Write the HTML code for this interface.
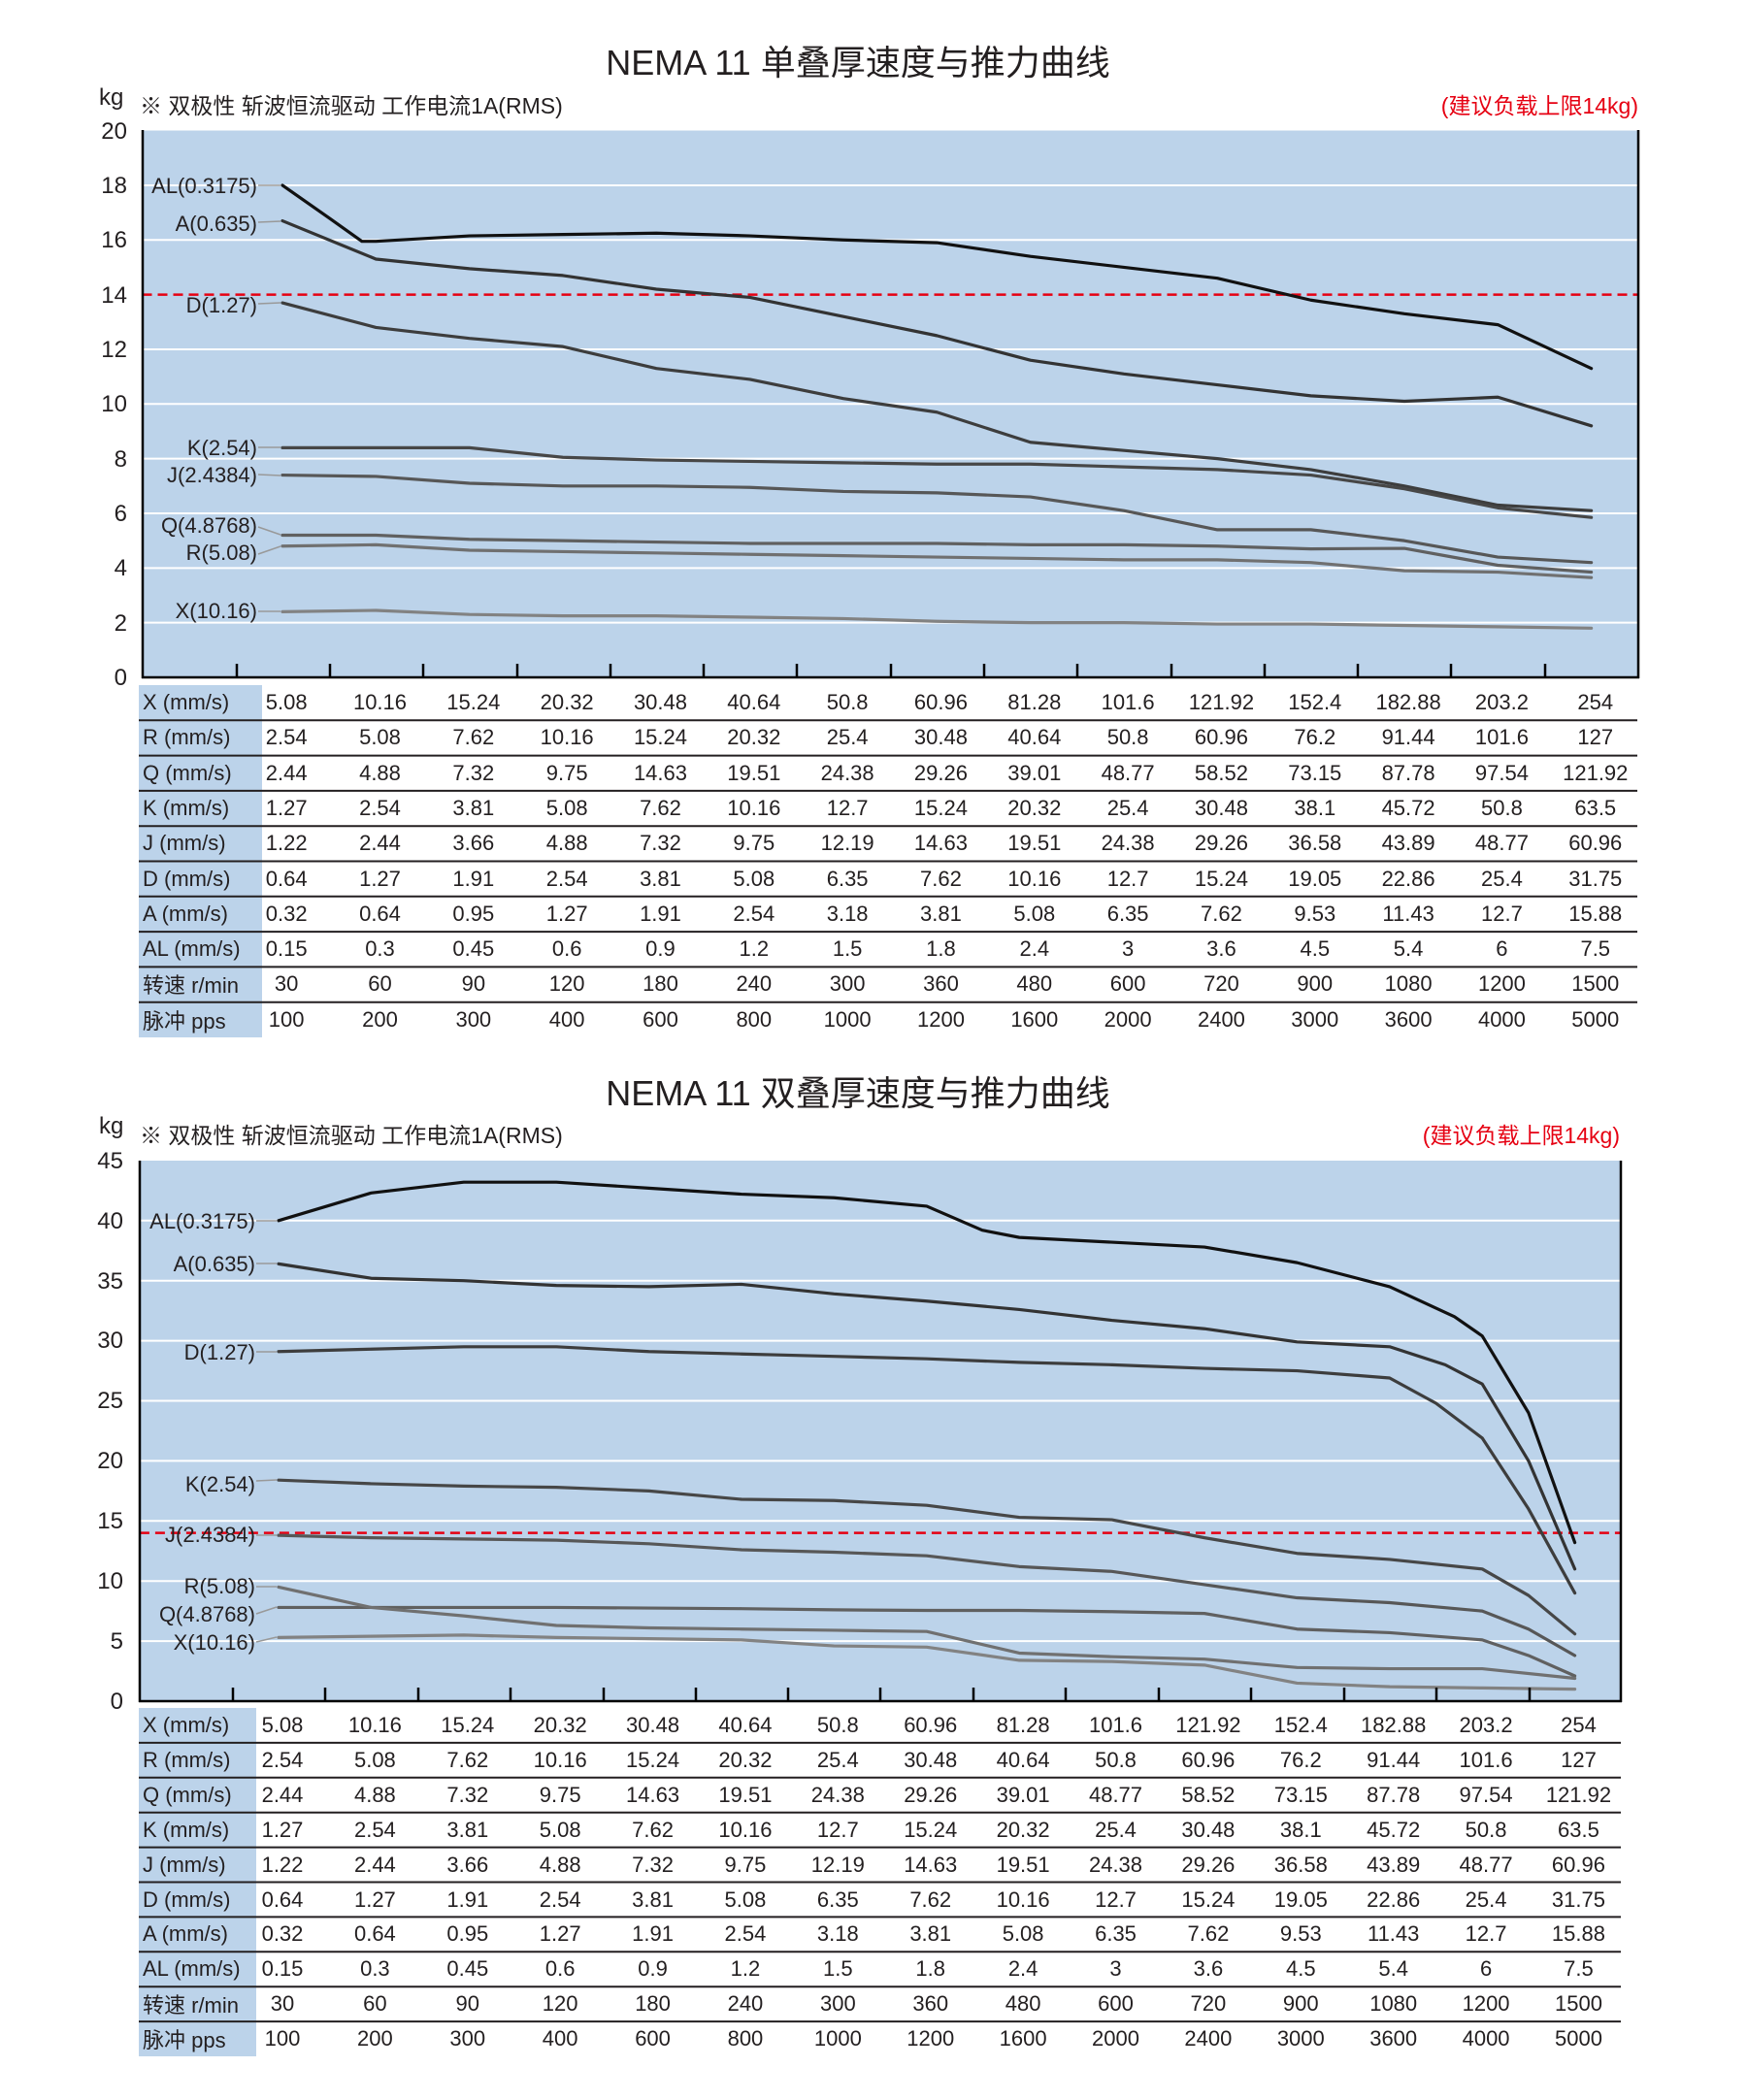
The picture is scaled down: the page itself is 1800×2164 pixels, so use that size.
<!DOCTYPE html>
<html><head><meta charset="utf-8">
<style>
body{margin:0;background:#fff;}
#wrap{position:relative;width:1800px;height:2164px;overflow:hidden;font-family:"Liberation Sans","Noto Sans CJK SC",sans-serif;color:#231f20;}
svg{position:absolute;left:0;top:0;}
.row{position:absolute;left:143px;height:36px;display:flex;align-items:center;font-size:22px;white-space:nowrap;}
.row .lb{width:0;overflow:visible;padding-left:4px;}
.row span.v{display:inline-block;text-align:center;}
.t1 .v{width:96.33px;}
.t2 .v{width:95.4px;}
</style></head><body><div id="wrap">
<svg width="1800" height="2164" viewBox="0 0 1800 2164" font-family="Liberation Sans, Noto Sans CJK SC, sans-serif" fill="#231f20">
<!-- ============ CHART 1 ============ -->
<text x="884" y="77" font-size="36" text-anchor="middle">NEMA 11 单叠厚速度与推力曲线</text>
<text x="102" y="108" font-size="24">kg</text>
<text x="144" y="117" font-size="23">※ 双极性 斩波恒流驱动 工作电流1A(RMS)</text>
<text x="1688" y="117" font-size="23" text-anchor="end" fill="#e60012">(建议负载上限14kg)</text>
<rect x="147" y="134.5" width="1541" height="563.5" fill="#bcd3ea"/>
<rect x="143" y="706" width="127" height="363" fill="#bcd3ea"/>
<g transform="translate(291,698) scale(96.33,-28.17)">
 <g stroke="#fff" stroke-width="2" vector-effect="non-scaling-stroke">
  <line x1="-1.5" x2="14.5" y1="2" y2="2" vector-effect="non-scaling-stroke"/>
  <line x1="-1.5" x2="14.5" y1="4" y2="4" vector-effect="non-scaling-stroke"/>
  <line x1="-1.5" x2="14.5" y1="6" y2="6" vector-effect="non-scaling-stroke"/>
  <line x1="-1.5" x2="14.5" y1="8" y2="8" vector-effect="non-scaling-stroke"/>
  <line x1="-1.5" x2="14.5" y1="10" y2="10" vector-effect="non-scaling-stroke"/>
  <line x1="-1.5" x2="14.5" y1="12" y2="12" vector-effect="non-scaling-stroke"/>
  <line x1="-1.5" x2="14.5" y1="16" y2="16" vector-effect="non-scaling-stroke"/>
  <line x1="-1.5" x2="14.5" y1="18" y2="18" vector-effect="non-scaling-stroke"/>
 </g>
 <line x1="-1.5" x2="14.5" y1="14" y2="14" stroke="#e60012" stroke-width="2.5" stroke-dasharray="10 6" vector-effect="non-scaling-stroke"/>
 <g fill="none" stroke-width="3.2" stroke-linejoin="round" stroke-linecap="round">
  <polyline vector-effect="non-scaling-stroke" stroke="#111" points="0,18 0.5,16.8 0.85,15.95 1,15.95 2,16.15 3,16.2 4,16.25 5,16.15 6,16 7,15.9 8,15.4 9,15.0 10,14.6 11,13.8 12,13.3 13,12.9 14,11.3"/>
  <polyline vector-effect="non-scaling-stroke" stroke="#333" points="0,16.7 1,15.3 2,14.95 3,14.7 4,14.2 5,13.9 6,13.2 7,12.5 8,11.6 9,11.1 10,10.7 11,10.3 12,10.1 13,10.25 14,9.2"/>
  <polyline vector-effect="non-scaling-stroke" stroke="#3d3d3d" points="0,13.7 1,12.8 2,12.4 3,12.1 4,11.3 5,10.9 6,10.2 7,9.7 8,8.6 9,8.3 10,8.0 11,7.6 12,7.0 13,6.3 14,6.1"/>
  <polyline vector-effect="non-scaling-stroke" stroke="#474747" points="0,8.4 1,8.4 2,8.4 3,8.05 4,7.95 5,7.9 6,7.85 7,7.8 8,7.8 9,7.7 10,7.6 11,7.4 12,6.9 13,6.2 14,5.85"/>
  <polyline vector-effect="non-scaling-stroke" stroke="#575757" points="0,7.4 1,7.35 2,7.1 3,7.0 4,7.0 5,6.95 6,6.8 7,6.75 8,6.6 9,6.1 10,5.4 11,5.4 12,5.0 13,4.4 14,4.2"/>
  <polyline vector-effect="non-scaling-stroke" stroke="#606060" points="0,5.2 1,5.2 2,5.05 3,5.0 4,4.95 5,4.9 6,4.9 7,4.9 8,4.85 9,4.85 10,4.8 11,4.7 12,4.72 13,4.1 14,3.85"/>
  <polyline vector-effect="non-scaling-stroke" stroke="#707070" points="0,4.8 1,4.85 2,4.65 3,4.6 4,4.55 5,4.5 6,4.45 7,4.4 8,4.35 9,4.3 10,4.3 11,4.2 12,3.9 13,3.85 14,3.65"/>
  <polyline vector-effect="non-scaling-stroke" stroke="#828282" points="0,2.4 1,2.45 2,2.3 3,2.25 4,2.25 5,2.2 6,2.15 7,2.05 8,2.0 9,2.0 10,1.95 11,1.95 12,1.9 13,1.85 14,1.8"/>
 </g>
</g>
<g stroke="#000" stroke-width="2.5">
 <line x1="147" y1="134" x2="147" y2="699"/>
 <line x1="1688" y1="134" x2="1688" y2="699"/>
 <line x1="146" y1="698" x2="1689" y2="698"/>
 <line x1="244" y1="684" x2="244" y2="698"/><line x1="340" y1="684" x2="340" y2="698"/><line x1="436" y1="684" x2="436" y2="698"/><line x1="533" y1="684" x2="533" y2="698"/><line x1="629" y1="684" x2="629" y2="698"/><line x1="725" y1="684" x2="725" y2="698"/><line x1="821" y1="684" x2="821" y2="698"/><line x1="918" y1="684" x2="918" y2="698"/><line x1="1014" y1="684" x2="1014" y2="698"/><line x1="1110" y1="684" x2="1110" y2="698"/><line x1="1207" y1="684" x2="1207" y2="698"/><line x1="1303" y1="684" x2="1303" y2="698"/><line x1="1399" y1="684" x2="1399" y2="698"/><line x1="1495" y1="684" x2="1495" y2="698"/><line x1="1592" y1="684" x2="1592" y2="698"/>
</g>
<g font-size="24" text-anchor="end">
 <text x="131" y="706">0</text><text x="131" y="650">2</text><text x="131" y="593">4</text><text x="131" y="537">6</text><text x="131" y="481">8</text><text x="131" y="424">10</text><text x="131" y="368">12</text><text x="131" y="312">14</text><text x="131" y="255">16</text><text x="131" y="199">18</text><text x="131" y="143">20</text>
</g>
<g stroke="#999" stroke-width="1.5">
 <line x1="266" y1="191" x2="289" y2="191"/><line x1="266" y1="229" x2="289" y2="228"/><line x1="266" y1="313" x2="289" y2="312"/><line x1="266" y1="461" x2="289" y2="461"/><line x1="266" y1="489" x2="289" y2="490"/><line x1="266" y1="543" x2="289" y2="551"/><line x1="266" y1="571" x2="289" y2="563"/><line x1="266" y1="630" x2="289" y2="630"/>
</g>
<g font-size="22" text-anchor="end">
 <text x="265" y="199">AL(0.3175)</text><text x="265" y="238">A(0.635)</text><text x="265" y="322">D(1.27)</text><text x="265" y="469">K(2.54)</text><text x="265" y="497">J(2.4384)</text><text x="265" y="549">Q(4.8768)</text><text x="265" y="577">R(5.08)</text><text x="265" y="637">X(10.16)</text>
</g>
<g stroke="#231f20" stroke-width="2">
 <line x1="143" x2="1687" y1="742.3" y2="742.3"/><line x1="143" x2="1687" y1="778.6" y2="778.6"/><line x1="143" x2="1687" y1="814.9" y2="814.9"/><line x1="143" x2="1687" y1="851.2" y2="851.2"/><line x1="143" x2="1687" y1="887.5" y2="887.5"/><line x1="143" x2="1687" y1="923.8" y2="923.8"/><line x1="143" x2="1687" y1="960.1" y2="960.1"/><line x1="143" x2="1687" y1="996.4" y2="996.4"/><line x1="143" x2="1687" y1="1032.7" y2="1032.7"/>
</g>

<!-- ============ CHART 2 ============ -->
<text x="884" y="1139" font-size="36" text-anchor="middle">NEMA 11 双叠厚速度与推力曲线</text>
<text x="102" y="1168" font-size="24">kg</text>
<text x="144" y="1178" font-size="23">※ 双极性 斩波恒流驱动 工作电流1A(RMS)</text>
<text x="1669" y="1178" font-size="23" text-anchor="end" fill="#e60012">(建议负载上限14kg)</text>
<rect x="144" y="1196" width="1526" height="557" fill="#bcd3ea"/>
<rect x="143" y="1760" width="121" height="359" fill="#bcd3ea"/>
<g transform="translate(287,1753) scale(95.4,-12.38)">
 <g stroke="#fff" stroke-width="2">
  <line x1="-1.5" x2="14.5" y1="5" y2="5" vector-effect="non-scaling-stroke"/>
  <line x1="-1.5" x2="14.5" y1="10" y2="10" vector-effect="non-scaling-stroke"/>
  <line x1="-1.5" x2="14.5" y1="15" y2="15" vector-effect="non-scaling-stroke"/>
  <line x1="-1.5" x2="14.5" y1="20" y2="20" vector-effect="non-scaling-stroke"/>
  <line x1="-1.5" x2="14.5" y1="25" y2="25" vector-effect="non-scaling-stroke"/>
  <line x1="-1.5" x2="14.5" y1="30" y2="30" vector-effect="non-scaling-stroke"/>
  <line x1="-1.5" x2="14.5" y1="35" y2="35" vector-effect="non-scaling-stroke"/>
  <line x1="-1.5" x2="14.5" y1="40" y2="40" vector-effect="non-scaling-stroke"/>
 </g>
 <line x1="-1.5" x2="14.5" y1="14" y2="14" stroke="#e60012" stroke-width="2.5" stroke-dasharray="10 6" vector-effect="non-scaling-stroke"/>
 <g fill="none" stroke-width="3.2" stroke-linejoin="round" stroke-linecap="round">
  <polyline vector-effect="non-scaling-stroke" stroke="#111" points="0,40 1,42.3 2,43.2 3,43.2 4,42.7 5,42.2 6,41.9 7,41.2 7.6,39.2 8,38.6 9,38.2 10,37.8 11,36.5 12,34.5 12.7,32 13,30.4 13.5,24 14,13.2"/>
  <polyline vector-effect="non-scaling-stroke" stroke="#333" points="0,36.4 1,35.2 2,35.0 3,34.6 4,34.5 5,34.7 6,33.9 7,33.3 8,32.6 9,31.7 10,31.0 11,29.9 12,29.5 12.6,28 13,26.4 13.5,20 14,11.0"/>
  <polyline vector-effect="non-scaling-stroke" stroke="#3d3d3d" points="0,29.1 1,29.3 2,29.5 3,29.5 4,29.1 5,28.9 6,28.7 7,28.5 8,28.2 9,28.0 10,27.7 11,27.5 12,26.9 12.5,24.8 13,21.9 13.5,16 14,9.0"/>
  <polyline vector-effect="non-scaling-stroke" stroke="#474747" points="0,18.4 1,18.1 2,17.9 3,17.8 4,17.5 5,16.8 6,16.7 7,16.3 8,15.3 9,15.1 10,13.6 11,12.3 12,11.8 13,11.0 13.5,8.8 14,5.6"/>
  <polyline vector-effect="non-scaling-stroke" stroke="#575757" points="0,13.8 1,13.6 2,13.5 3,13.4 4,13.1 5,12.6 6,12.4 7,12.1 8,11.2 9,10.8 10,9.7 11,8.6 12,8.2 13,7.5 13.5,6 14,3.8"/>
  <polyline vector-effect="non-scaling-stroke" stroke="#606060" points="0,7.8 1,7.8 2,7.8 3,7.8 4,7.75 5,7.7 6,7.6 7,7.55 8,7.55 9,7.45 10,7.3 11,6.0 12,5.7 13,5.1 13.5,3.8 14,2.1"/>
  <polyline vector-effect="non-scaling-stroke" stroke="#707070" points="0,9.5 1,7.8 2,7.1 3,6.3 4,6.1 5,6.0 6,5.9 7,5.8 8,4.0 9,3.7 10,3.5 11,2.8 12,2.7 13,2.7 14,1.9"/>
  <polyline vector-effect="non-scaling-stroke" stroke="#828282" points="0,5.3 1,5.4 2,5.5 3,5.3 4,5.2 5,5.1 6,4.6 7,4.5 8,3.4 9,3.3 10,3.0 11,1.5 12,1.2 13,1.1 14,1.0"/>
 </g>
</g>
<g stroke="#000" stroke-width="2.5">
 <line x1="144" y1="1196" x2="144" y2="1754"/>
 <line x1="1670" y1="1196" x2="1670" y2="1754"/>
 <line x1="143" y1="1753" x2="1671" y2="1753"/>
 <line x1="240" y1="1739" x2="240" y2="1753"/><line x1="335" y1="1739" x2="335" y2="1753"/><line x1="431" y1="1739" x2="431" y2="1753"/><line x1="526" y1="1739" x2="526" y2="1753"/><line x1="622" y1="1739" x2="622" y2="1753"/><line x1="717" y1="1739" x2="717" y2="1753"/><line x1="812" y1="1739" x2="812" y2="1753"/><line x1="907" y1="1739" x2="907" y2="1753"/><line x1="1003" y1="1739" x2="1003" y2="1753"/><line x1="1098" y1="1739" x2="1098" y2="1753"/><line x1="1194" y1="1739" x2="1194" y2="1753"/><line x1="1289" y1="1739" x2="1289" y2="1753"/><line x1="1385" y1="1739" x2="1385" y2="1753"/><line x1="1480" y1="1739" x2="1480" y2="1753"/><line x1="1576" y1="1739" x2="1576" y2="1753"/>
</g>
<g font-size="24" text-anchor="end">
 <text x="127" y="1761">0</text><text x="127" y="1699">5</text><text x="127" y="1637">10</text><text x="127" y="1575">15</text><text x="127" y="1513">20</text><text x="127" y="1451">25</text><text x="127" y="1389">30</text><text x="127" y="1328">35</text><text x="127" y="1266">40</text><text x="127" y="1204">45</text>
</g>
<g stroke="#999" stroke-width="1.5">
 <line x1="264" y1="1258" x2="285" y2="1258"/><line x1="264" y1="1302" x2="285" y2="1302"/><line x1="264" y1="1393" x2="285" y2="1393"/><line x1="264" y1="1526" x2="285" y2="1525"/><line x1="264" y1="1582" x2="285" y2="1582"/><line x1="264" y1="1635" x2="285" y2="1635"/><line x1="264" y1="1663" x2="285" y2="1656"/><line x1="264" y1="1692" x2="285" y2="1687"/>
</g>
<g font-size="22" text-anchor="end">
 <text x="263" y="1266">AL(0.3175)</text><text x="263" y="1310">A(0.635)</text><text x="263" y="1401">D(1.27)</text><text x="263" y="1537">K(2.54)</text><text x="263" y="1589">J(2.4384)</text><text x="263" y="1642">R(5.08)</text><text x="263" y="1671">Q(4.8768)</text><text x="263" y="1700">X(10.16)</text>
</g>
<g stroke="#231f20" stroke-width="2">
 <line x1="143" x2="1670" y1="1795.9" y2="1795.9"/><line x1="143" x2="1670" y1="1831.8" y2="1831.8"/><line x1="143" x2="1670" y1="1867.7" y2="1867.7"/><line x1="143" x2="1670" y1="1903.6" y2="1903.6"/><line x1="143" x2="1670" y1="1939.5" y2="1939.5"/><line x1="143" x2="1670" y1="1975.4" y2="1975.4"/><line x1="143" x2="1670" y1="2011.3" y2="2011.3"/><line x1="143" x2="1670" y1="2047.2" y2="2047.2"/><line x1="143" x2="1670" y1="2083.1" y2="2083.1"/>
</g>
</svg>

<!-- TABLE 1 -->
<div class="t1">
<div class="row" style="top:706px"><span class="lb">X (mm/s)</span><span style="width:100px"></span><span class="v">5.08</span><span class="v">10.16</span><span class="v">15.24</span><span class="v">20.32</span><span class="v">30.48</span><span class="v">40.64</span><span class="v">50.8</span><span class="v">60.96</span><span class="v">81.28</span><span class="v">101.6</span><span class="v">121.92</span><span class="v">152.4</span><span class="v">182.88</span><span class="v">203.2</span><span class="v">254</span></div>
<div class="row" style="top:742.3px"><span class="lb">R (mm/s)</span><span style="width:100px"></span><span class="v">2.54</span><span class="v">5.08</span><span class="v">7.62</span><span class="v">10.16</span><span class="v">15.24</span><span class="v">20.32</span><span class="v">25.4</span><span class="v">30.48</span><span class="v">40.64</span><span class="v">50.8</span><span class="v">60.96</span><span class="v">76.2</span><span class="v">91.44</span><span class="v">101.6</span><span class="v">127</span></div>
<div class="row" style="top:778.6px"><span class="lb">Q (mm/s)</span><span style="width:100px"></span><span class="v">2.44</span><span class="v">4.88</span><span class="v">7.32</span><span class="v">9.75</span><span class="v">14.63</span><span class="v">19.51</span><span class="v">24.38</span><span class="v">29.26</span><span class="v">39.01</span><span class="v">48.77</span><span class="v">58.52</span><span class="v">73.15</span><span class="v">87.78</span><span class="v">97.54</span><span class="v">121.92</span></div>
<div class="row" style="top:814.9px"><span class="lb">K (mm/s)</span><span style="width:100px"></span><span class="v">1.27</span><span class="v">2.54</span><span class="v">3.81</span><span class="v">5.08</span><span class="v">7.62</span><span class="v">10.16</span><span class="v">12.7</span><span class="v">15.24</span><span class="v">20.32</span><span class="v">25.4</span><span class="v">30.48</span><span class="v">38.1</span><span class="v">45.72</span><span class="v">50.8</span><span class="v">63.5</span></div>
<div class="row" style="top:851.2px"><span class="lb">J (mm/s)</span><span style="width:100px"></span><span class="v">1.22</span><span class="v">2.44</span><span class="v">3.66</span><span class="v">4.88</span><span class="v">7.32</span><span class="v">9.75</span><span class="v">12.19</span><span class="v">14.63</span><span class="v">19.51</span><span class="v">24.38</span><span class="v">29.26</span><span class="v">36.58</span><span class="v">43.89</span><span class="v">48.77</span><span class="v">60.96</span></div>
<div class="row" style="top:887.5px"><span class="lb">D (mm/s)</span><span style="width:100px"></span><span class="v">0.64</span><span class="v">1.27</span><span class="v">1.91</span><span class="v">2.54</span><span class="v">3.81</span><span class="v">5.08</span><span class="v">6.35</span><span class="v">7.62</span><span class="v">10.16</span><span class="v">12.7</span><span class="v">15.24</span><span class="v">19.05</span><span class="v">22.86</span><span class="v">25.4</span><span class="v">31.75</span></div>
<div class="row" style="top:923.8px"><span class="lb">A (mm/s)</span><span style="width:100px"></span><span class="v">0.32</span><span class="v">0.64</span><span class="v">0.95</span><span class="v">1.27</span><span class="v">1.91</span><span class="v">2.54</span><span class="v">3.18</span><span class="v">3.81</span><span class="v">5.08</span><span class="v">6.35</span><span class="v">7.62</span><span class="v">9.53</span><span class="v">11.43</span><span class="v">12.7</span><span class="v">15.88</span></div>
<div class="row" style="top:960.1px"><span class="lb">AL (mm/s)</span><span style="width:100px"></span><span class="v">0.15</span><span class="v">0.3</span><span class="v">0.45</span><span class="v">0.6</span><span class="v">0.9</span><span class="v">1.2</span><span class="v">1.5</span><span class="v">1.8</span><span class="v">2.4</span><span class="v">3</span><span class="v">3.6</span><span class="v">4.5</span><span class="v">5.4</span><span class="v">6</span><span class="v">7.5</span></div>
<div class="row" style="top:996.4px"><span class="lb">转速 r/min</span><span style="width:100px"></span><span class="v">30</span><span class="v">60</span><span class="v">90</span><span class="v">120</span><span class="v">180</span><span class="v">240</span><span class="v">300</span><span class="v">360</span><span class="v">480</span><span class="v">600</span><span class="v">720</span><span class="v">900</span><span class="v">1080</span><span class="v">1200</span><span class="v">1500</span></div>
<div class="row" style="top:1032.7px"><span class="lb">脉冲 pps</span><span style="width:100px"></span><span class="v">100</span><span class="v">200</span><span class="v">300</span><span class="v">400</span><span class="v">600</span><span class="v">800</span><span class="v">1000</span><span class="v">1200</span><span class="v">1600</span><span class="v">2000</span><span class="v">2400</span><span class="v">3000</span><span class="v">3600</span><span class="v">4000</span><span class="v">5000</span></div>
</div>

<!-- TABLE 2 -->
<div class="t2">
<div class="row" style="top:1760px"><span class="lb">X (mm/s)</span><span style="width:96.3px"></span><span class="v">5.08</span><span class="v">10.16</span><span class="v">15.24</span><span class="v">20.32</span><span class="v">30.48</span><span class="v">40.64</span><span class="v">50.8</span><span class="v">60.96</span><span class="v">81.28</span><span class="v">101.6</span><span class="v">121.92</span><span class="v">152.4</span><span class="v">182.88</span><span class="v">203.2</span><span class="v">254</span></div>
<div class="row" style="top:1795.9px"><span class="lb">R (mm/s)</span><span style="width:96.3px"></span><span class="v">2.54</span><span class="v">5.08</span><span class="v">7.62</span><span class="v">10.16</span><span class="v">15.24</span><span class="v">20.32</span><span class="v">25.4</span><span class="v">30.48</span><span class="v">40.64</span><span class="v">50.8</span><span class="v">60.96</span><span class="v">76.2</span><span class="v">91.44</span><span class="v">101.6</span><span class="v">127</span></div>
<div class="row" style="top:1831.8px"><span class="lb">Q (mm/s)</span><span style="width:96.3px"></span><span class="v">2.44</span><span class="v">4.88</span><span class="v">7.32</span><span class="v">9.75</span><span class="v">14.63</span><span class="v">19.51</span><span class="v">24.38</span><span class="v">29.26</span><span class="v">39.01</span><span class="v">48.77</span><span class="v">58.52</span><span class="v">73.15</span><span class="v">87.78</span><span class="v">97.54</span><span class="v">121.92</span></div>
<div class="row" style="top:1867.7px"><span class="lb">K (mm/s)</span><span style="width:96.3px"></span><span class="v">1.27</span><span class="v">2.54</span><span class="v">3.81</span><span class="v">5.08</span><span class="v">7.62</span><span class="v">10.16</span><span class="v">12.7</span><span class="v">15.24</span><span class="v">20.32</span><span class="v">25.4</span><span class="v">30.48</span><span class="v">38.1</span><span class="v">45.72</span><span class="v">50.8</span><span class="v">63.5</span></div>
<div class="row" style="top:1903.6px"><span class="lb">J (mm/s)</span><span style="width:96.3px"></span><span class="v">1.22</span><span class="v">2.44</span><span class="v">3.66</span><span class="v">4.88</span><span class="v">7.32</span><span class="v">9.75</span><span class="v">12.19</span><span class="v">14.63</span><span class="v">19.51</span><span class="v">24.38</span><span class="v">29.26</span><span class="v">36.58</span><span class="v">43.89</span><span class="v">48.77</span><span class="v">60.96</span></div>
<div class="row" style="top:1939.5px"><span class="lb">D (mm/s)</span><span style="width:96.3px"></span><span class="v">0.64</span><span class="v">1.27</span><span class="v">1.91</span><span class="v">2.54</span><span class="v">3.81</span><span class="v">5.08</span><span class="v">6.35</span><span class="v">7.62</span><span class="v">10.16</span><span class="v">12.7</span><span class="v">15.24</span><span class="v">19.05</span><span class="v">22.86</span><span class="v">25.4</span><span class="v">31.75</span></div>
<div class="row" style="top:1975.4px"><span class="lb">A (mm/s)</span><span style="width:96.3px"></span><span class="v">0.32</span><span class="v">0.64</span><span class="v">0.95</span><span class="v">1.27</span><span class="v">1.91</span><span class="v">2.54</span><span class="v">3.18</span><span class="v">3.81</span><span class="v">5.08</span><span class="v">6.35</span><span class="v">7.62</span><span class="v">9.53</span><span class="v">11.43</span><span class="v">12.7</span><span class="v">15.88</span></div>
<div class="row" style="top:2011.3px"><span class="lb">AL (mm/s)</span><span style="width:96.3px"></span><span class="v">0.15</span><span class="v">0.3</span><span class="v">0.45</span><span class="v">0.6</span><span class="v">0.9</span><span class="v">1.2</span><span class="v">1.5</span><span class="v">1.8</span><span class="v">2.4</span><span class="v">3</span><span class="v">3.6</span><span class="v">4.5</span><span class="v">5.4</span><span class="v">6</span><span class="v">7.5</span></div>
<div class="row" style="top:2047.2px"><span class="lb">转速 r/min</span><span style="width:96.3px"></span><span class="v">30</span><span class="v">60</span><span class="v">90</span><span class="v">120</span><span class="v">180</span><span class="v">240</span><span class="v">300</span><span class="v">360</span><span class="v">480</span><span class="v">600</span><span class="v">720</span><span class="v">900</span><span class="v">1080</span><span class="v">1200</span><span class="v">1500</span></div>
<div class="row" style="top:2083.1px"><span class="lb">脉冲 pps</span><span style="width:96.3px"></span><span class="v">100</span><span class="v">200</span><span class="v">300</span><span class="v">400</span><span class="v">600</span><span class="v">800</span><span class="v">1000</span><span class="v">1200</span><span class="v">1600</span><span class="v">2000</span><span class="v">2400</span><span class="v">3000</span><span class="v">3600</span><span class="v">4000</span><span class="v">5000</span></div>
</div>
</div></body></html>
